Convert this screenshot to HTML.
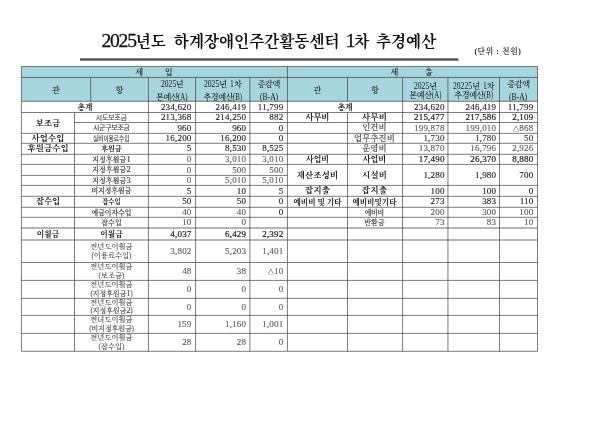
<!DOCTYPE html>
<html lang="ko"><head><meta charset="utf-8"><title>2025년도 하계장애인주간활동센터 1차 추경예산</title>
<style>
html,body{margin:0;padding:0;background:#fff;}
body{width:600px;height:424px;position:relative;overflow:hidden;font-family:"Liberation Serif","Noto Serif CJK SC",serif;color:#111;}
svg{position:absolute;left:0;top:0;}
.c{position:absolute;display:flex;align-items:center;text-align:center;white-space:nowrap;font-size:8.6px;line-height:1;box-sizing:border-box;}
.title{position:absolute;left:101.5px;top:30.0px;width:400px;text-align:left;font-family:"Liberation Serif","Noto Serif CJK SC",serif;font-weight:700;font-size:15.6px;line-height:23px;white-space:nowrap;word-spacing:3.5px;color:#111;-webkit-text-stroke:0 #111;}
.td{font-size:19.6px;font-weight:400;letter-spacing:-1.25px;line-height:1px;-webkit-text-stroke:0.3px #111;}
.t2{margin-left:0.6px;}
.t3{margin-left:-1.2px;}
.t4{margin-left:-0.8px;}
.unit{position:absolute;left:474.4px;top:46.6px;width:80px;line-height:10px;color:#222;white-space:nowrap;font-family:"Liberation Serif","Noto Serif CJK SC",serif;font-weight:600;}
.h{font-weight:500;color:#1a1a1a;font-size:8.2px;padding-top:3.4px;}
.hb{font-weight:600;padding-top:2.2px;}
.h2{line-height:9.3px;letter-spacing:-0.45px;padding-top:3.4px;word-spacing:1.8px;}
.wide{line-height:13.6px;padding-top:4.2px;}
.sxo{display:inline-block;white-space:nowrap;letter-spacing:0;text-align:left;line-height:1px;font-weight:400;}
.sxi{display:inline-block;transform-origin:0 50%;white-space:nowrap;}
.b{font-weight:700;color:#111;font-size:8.4px;padding-top:1.7px;}
.g{font-family:"Liberation Serif","Noto Serif CJK SC",serif;font-weight:500;color:#3a3a3a;font-size:7.3px;padding-top:1.4px;-webkit-text-stroke:0.15px currentColor;}
.cd{letter-spacing:-0.32px;}
.ld{font-size:1.22em;line-height:1px;}
.gs{font-family:"Liberation Sans","Noto Sans CJK KR",sans-serif;font-weight:400;color:#444;}
.g .sxo{line-height:1;}
.two{line-height:8.8px;font-size:7.3px;padding-top:1.2px;-webkit-text-stroke:0.05px currentColor;color:#484848;}
.n{font-family:"Liberation Serif","Noto Serif CJK SC",serif;font-size:9px;letter-spacing:0.2px;-webkit-text-stroke:0.12px currentColor;padding-top:0.4px;}
.tri{font-size:6.2px;}
.k{color:#1a1a1a;}
.k2{color:#333;}
.gr{color:#5a5a5a;}
.nb{font-weight:400;-webkit-text-stroke:0.2px currentColor;}
.nb2{-webkit-text-stroke:0.2px currentColor;}
.gb{font-weight:500;color:#484848;}
</style></head>
<body>
<svg width="600" height="424" viewBox="0 0 600 424">
<rect x="21.4" y="66.45" width="516.1" height="34.849999999999994" fill="#a4d6dc"/>
<rect x="80" y="58.3" width="378.3" height="2.4" fill="#505050"/>
<line x1="21.4" y1="66.45" x2="537.5" y2="66.45" stroke="#444444" stroke-width="0.7"/>
<line x1="21.4" y1="77.45" x2="537.5" y2="77.45" stroke="#444444" stroke-width="0.7"/>
<line x1="21.4" y1="101.3" x2="537.5" y2="101.3" stroke="#444444" stroke-width="0.7"/>
<line x1="21.4" y1="112.5" x2="287.45" y2="112.5" stroke="#444444" stroke-width="0.7"/>
<line x1="287.45" y1="112.5" x2="537.5" y2="112.5" stroke="#444444" stroke-width="0.7"/>
<line x1="74.5" y1="122.5" x2="287.45" y2="122.5" stroke="#444444" stroke-width="0.7"/>
<line x1="287.45" y1="122.5" x2="537.5" y2="122.5" stroke="#444444" stroke-width="0.7"/>
<line x1="21.4" y1="133.35" x2="287.45" y2="133.35" stroke="#444444" stroke-width="0.7"/>
<line x1="287.45" y1="133.35" x2="537.5" y2="133.35" stroke="#444444" stroke-width="0.7"/>
<line x1="21.4" y1="143.3" x2="287.45" y2="143.3" stroke="#444444" stroke-width="0.7"/>
<line x1="287.45" y1="143.3" x2="537.5" y2="143.3" stroke="#444444" stroke-width="0.7"/>
<line x1="21.4" y1="154.3" x2="287.45" y2="154.3" stroke="#444444" stroke-width="0.7"/>
<line x1="287.45" y1="154.3" x2="537.5" y2="154.3" stroke="#444444" stroke-width="0.7"/>
<line x1="21.4" y1="164.4" x2="287.45" y2="164.4" stroke="#444444" stroke-width="0.7"/>
<line x1="287.45" y1="164.4" x2="537.5" y2="164.4" stroke="#444444" stroke-width="0.7"/>
<line x1="21.4" y1="175.4" x2="287.45" y2="175.4" stroke="#444444" stroke-width="0.7"/>
<line x1="21.4" y1="185.4" x2="287.45" y2="185.4" stroke="#444444" stroke-width="0.7"/>
<line x1="287.45" y1="185.4" x2="537.5" y2="185.4" stroke="#444444" stroke-width="0.7"/>
<line x1="21.4" y1="196.3" x2="287.45" y2="196.3" stroke="#444444" stroke-width="0.7"/>
<line x1="287.45" y1="196.3" x2="537.5" y2="196.3" stroke="#444444" stroke-width="0.7"/>
<line x1="21.4" y1="207.3" x2="287.45" y2="207.3" stroke="#444444" stroke-width="0.7"/>
<line x1="287.45" y1="207.3" x2="537.5" y2="207.3" stroke="#444444" stroke-width="0.7"/>
<line x1="21.4" y1="217.3" x2="287.45" y2="217.3" stroke="#444444" stroke-width="0.7"/>
<line x1="287.45" y1="217.3" x2="537.5" y2="217.3" stroke="#444444" stroke-width="0.7"/>
<line x1="21.4" y1="228.0" x2="287.45" y2="228.0" stroke="#b6b6b6" stroke-width="2.0"/>
<line x1="287.45" y1="228.0" x2="537.5" y2="228.0" stroke="#b6b6b6" stroke-width="2.0"/>
<line x1="21.4" y1="239.95" x2="287.45" y2="239.95" stroke="#b6b6b6" stroke-width="2.0"/>
<line x1="287.45" y1="239.95" x2="537.5" y2="239.95" stroke="#b6b6b6" stroke-width="2.0"/>
<line x1="21.4" y1="262.5" x2="287.45" y2="262.5" stroke="#444444" stroke-width="0.7"/>
<line x1="287.45" y1="262.5" x2="537.5" y2="262.5" stroke="#444444" stroke-width="0.7"/>
<line x1="21.4" y1="280.4" x2="287.45" y2="280.4" stroke="#444444" stroke-width="0.7"/>
<line x1="287.45" y1="280.4" x2="537.5" y2="280.4" stroke="#444444" stroke-width="0.7"/>
<line x1="21.4" y1="298.35" x2="287.45" y2="298.35" stroke="#444444" stroke-width="0.7"/>
<line x1="287.45" y1="298.35" x2="537.5" y2="298.35" stroke="#444444" stroke-width="0.7"/>
<line x1="21.4" y1="315.4" x2="287.45" y2="315.4" stroke="#444444" stroke-width="0.7"/>
<line x1="287.45" y1="315.4" x2="537.5" y2="315.4" stroke="#444444" stroke-width="0.7"/>
<line x1="21.4" y1="333.4" x2="287.45" y2="333.4" stroke="#444444" stroke-width="0.7"/>
<line x1="287.45" y1="333.4" x2="537.5" y2="333.4" stroke="#444444" stroke-width="0.7"/>
<line x1="21.4" y1="351.3" x2="287.45" y2="351.3" stroke="#444444" stroke-width="0.7"/>
<line x1="287.45" y1="351.3" x2="537.5" y2="351.3" stroke="#444444" stroke-width="0.7"/>
<line x1="21.4" y1="66.45" x2="21.4" y2="351.3" stroke="#444444" stroke-width="0.7"/>
<line x1="90.7" y1="77.45" x2="90.7" y2="101.3" stroke="#444444" stroke-width="0.7"/>
<line x1="74.5" y1="112.5" x2="74.5" y2="351.3" stroke="#444444" stroke-width="0.7"/>
<line x1="148.4" y1="77.45" x2="148.4" y2="351.3" stroke="#444444" stroke-width="0.7"/>
<line x1="195.6" y1="77.45" x2="195.6" y2="351.3" stroke="#444444" stroke-width="0.7"/>
<line x1="249.9" y1="77.45" x2="249.9" y2="351.3" stroke="#444444" stroke-width="0.7"/>
<line x1="287.45" y1="66.45" x2="287.45" y2="351.3" stroke="#444444" stroke-width="0.7"/>
<line x1="347.5" y1="77.45" x2="347.5" y2="101.3" stroke="#444444" stroke-width="0.7"/>
<line x1="347.5" y1="112.5" x2="347.5" y2="351.3" stroke="#444444" stroke-width="0.7"/>
<line x1="402.6" y1="77.45" x2="402.6" y2="351.3" stroke="#444444" stroke-width="0.7"/>
<line x1="447.95" y1="77.45" x2="447.95" y2="351.3" stroke="#444444" stroke-width="0.7"/>
<line x1="499.5" y1="77.45" x2="499.5" y2="351.3" stroke="#444444" stroke-width="0.7"/>
<line x1="537.5" y1="66.45" x2="537.5" y2="351.3" stroke="#444444" stroke-width="0.7"/>
</svg>
<div class="title"><span class="td">2025</span>년도 <span class="t2">하계장애인주간활동센터</span> <span class="td t3">1</span>차 <span class="t4">추경예산</span></div>
<div class="unit" style="font-size:7.8px;letter-spacing:0.58px">(단위 : 천원)</div>
<div class="c h hb" style="left:21.00px;top:66.45px;width:266.05px;height:11.00px;justify-content:center;"><div>세<span style="display:inline-block;width:21.6px"></span>입</div></div>
<div class="c h hb" style="left:286.55px;top:66.45px;width:250.05px;height:11.00px;justify-content:center;"><div>세<span style="display:inline-block;width:26.3px"></span>출</div></div>
<div class="c h" style="left:21.40px;top:77.45px;width:69.30px;height:23.85px;justify-content:center;"><div>관</div></div>
<div class="c h" style="left:90.70px;top:77.45px;width:57.70px;height:23.85px;justify-content:center;"><div>항</div></div>
<div class="c h h2 wide" style="left:148.40px;top:77.45px;width:47.20px;height:23.85px;justify-content:center;"><div><span class="sxo" style="width:15.20px;font-size:9.5px;"><span class="sxi" style="transform:scaleX(0.8)">2025</span></span>년<br>본예산<span class="sxo" style="width:9.49px;font-size:9.5px;"><span class="sxi" style="transform:scaleX(0.72)">(A)</span></span></div></div>
<div class="c h h2 wide" style="left:195.60px;top:77.45px;width:54.30px;height:23.85px;justify-content:center;"><div><span class="sxo" style="width:15.20px;font-size:9.5px;"><span class="sxi" style="transform:scaleX(0.8)">2025</span></span>년 <span class="sxo" style="width:3.80px;font-size:9.5px;"><span class="sxi" style="transform:scaleX(0.8)">1</span></span>차<br>추경예산<span class="sxo" style="width:9.12px;font-size:9.5px;"><span class="sxi" style="transform:scaleX(0.72)">(B)</span></span></div></div>
<div class="c h h2 wide" style="left:249.90px;top:77.45px;width:37.55px;height:23.85px;justify-content:center;"><div>증감액<br><span class="sxo" style="width:18.15px;font-size:9.5px;"><span class="sxi" style="transform:scaleX(0.8)">(B-A)</span></span></div></div>
<div class="c h" style="left:287.45px;top:77.45px;width:60.05px;height:23.85px;justify-content:center;"><div>관</div></div>
<div class="c h" style="left:347.50px;top:77.45px;width:55.10px;height:23.85px;justify-content:center;"><div>항</div></div>
<div class="c h h2" style="left:402.60px;top:77.45px;width:45.35px;height:23.85px;justify-content:center;"><div><span class="sxo" style="width:15.20px;font-size:9.5px;"><span class="sxi" style="transform:scaleX(0.8)">2025</span></span>년<br>본예산<span class="sxo" style="width:9.49px;font-size:9.5px;"><span class="sxi" style="transform:scaleX(0.72)">(A)</span></span></div></div>
<div class="c h h2" style="left:447.95px;top:77.45px;width:51.55px;height:23.85px;justify-content:center;"><div><span class="sxo" style="width:19.00px;font-size:9.5px;"><span class="sxi" style="transform:scaleX(0.8)">20225</span></span>년 <span class="sxo" style="width:3.80px;font-size:9.5px;"><span class="sxi" style="transform:scaleX(0.8)">1</span></span>차<br>추경예산<span class="sxo" style="width:9.12px;font-size:9.5px;"><span class="sxi" style="transform:scaleX(0.72)">(B)</span></span></div></div>
<div class="c h h2 wide" style="left:499.50px;top:77.45px;width:38.00px;height:23.85px;justify-content:center;"><div>증감액<br><span class="sxo" style="width:18.15px;font-size:9.5px;"><span class="sxi" style="transform:scaleX(0.8)">(B-A)</span></span></div></div>
<div class="c b" style="left:21.40px;top:101.30px;width:127.00px;height:11.20px;justify-content:center;font-size:7.76px;"><div>총계</div></div>
<div class="c n k" style="left:148.40px;top:101.30px;width:43.15px;height:11.20px;justify-content:flex-end;"><div>234,620</div></div>
<div class="c n k" style="left:195.60px;top:101.30px;width:50.65px;height:11.20px;justify-content:flex-end;"><div>246,419</div></div>
<div class="c n k" style="left:249.90px;top:101.30px;width:33.55px;height:11.20px;justify-content:flex-end;"><div>11,799</div></div>
<div class="c g gs" style="left:74.47px;top:112.50px;width:73.90px;height:10.00px;justify-content:center;font-size:6.90px;letter-spacing:-0.05px;"><div>시도보조금</div></div>
<div class="c n k" style="left:148.40px;top:112.50px;width:43.15px;height:10.00px;justify-content:flex-end;"><div>213,368</div></div>
<div class="c n k" style="left:195.60px;top:112.50px;width:50.65px;height:10.00px;justify-content:flex-end;"><div>214,250</div></div>
<div class="c n k" style="left:249.90px;top:112.50px;width:33.55px;height:10.00px;justify-content:flex-end;"><div>882</div></div>
<div class="c g gs" style="left:74.39px;top:122.50px;width:73.90px;height:10.85px;justify-content:center;font-size:6.90px;letter-spacing:-0.21px;"><div>시군구보조금</div></div>
<div class="c n k" style="left:148.40px;top:122.50px;width:43.15px;height:10.85px;justify-content:flex-end;"><div>960</div></div>
<div class="c n k" style="left:195.60px;top:122.50px;width:50.65px;height:10.85px;justify-content:flex-end;"><div>960</div></div>
<div class="c n k" style="left:249.90px;top:122.50px;width:33.55px;height:10.85px;justify-content:flex-end;"><div>0</div></div>
<div class="c g gs" style="left:74.50px;top:133.35px;width:73.90px;height:9.95px;justify-content:center;"><div><span class="sxo" style="width:36.39px;font-size:6.9px;line-height:1;"><span class="sxi" style="transform:scaleX(0.819)">실비이용료수입</span></span></div></div>
<div class="c n k" style="left:148.40px;top:133.35px;width:43.15px;height:9.95px;justify-content:flex-end;"><div>16,200</div></div>
<div class="c n k" style="left:195.60px;top:133.35px;width:50.65px;height:9.95px;justify-content:flex-end;"><div>16,200</div></div>
<div class="c n k" style="left:249.90px;top:133.35px;width:33.55px;height:9.95px;justify-content:flex-end;"><div>0</div></div>
<div class="c bs b" style="left:74.40px;top:143.30px;width:73.90px;height:11.00px;justify-content:center;font-size:7.20px;letter-spacing:-0.21px;"><div>후원금</div></div>
<div class="c n k" style="left:148.40px;top:143.30px;width:43.15px;height:11.00px;justify-content:flex-end;"><div>5</div></div>
<div class="c n k" style="left:195.60px;top:143.30px;width:50.65px;height:11.00px;justify-content:flex-end;"><div>8,530</div></div>
<div class="c n k" style="left:249.90px;top:143.30px;width:33.55px;height:11.00px;justify-content:flex-end;"><div>8,525</div></div>
<div class="c g" style="left:74.59px;top:154.30px;width:73.90px;height:10.10px;justify-content:center;font-size:6.90px;letter-spacing:0.18px;"><div>지정후원금<span class="ld">1</span></div></div>
<div class="c n gr" style="left:148.40px;top:154.30px;width:43.15px;height:10.10px;justify-content:flex-end;"><div>0</div></div>
<div class="c n gr" style="left:195.60px;top:154.30px;width:50.65px;height:10.10px;justify-content:flex-end;"><div>3,010</div></div>
<div class="c n gr" style="left:249.90px;top:154.30px;width:33.55px;height:10.10px;justify-content:flex-end;"><div>3,010</div></div>
<div class="c g" style="left:74.59px;top:164.40px;width:73.90px;height:11.00px;justify-content:center;font-size:6.90px;letter-spacing:0.18px;"><div>지정후원금<span class="ld">2</span></div></div>
<div class="c n gr" style="left:148.40px;top:164.40px;width:43.15px;height:11.00px;justify-content:flex-end;"><div>0</div></div>
<div class="c n gr" style="left:195.60px;top:164.40px;width:50.65px;height:11.00px;justify-content:flex-end;"><div>500</div></div>
<div class="c n gr" style="left:249.90px;top:164.40px;width:33.55px;height:11.00px;justify-content:flex-end;"><div>500</div></div>
<div class="c g" style="left:74.59px;top:175.40px;width:73.90px;height:10.00px;justify-content:center;font-size:6.90px;letter-spacing:0.18px;"><div>지정후원금<span class="ld">3</span></div></div>
<div class="c n gr" style="left:148.40px;top:175.40px;width:43.15px;height:10.00px;justify-content:flex-end;"><div>0</div></div>
<div class="c n gr" style="left:195.60px;top:175.40px;width:50.65px;height:10.00px;justify-content:flex-end;"><div>5,010</div></div>
<div class="c n gr" style="left:249.90px;top:175.40px;width:33.55px;height:10.00px;justify-content:flex-end;"><div>5,010</div></div>
<div class="c g" style="left:74.50px;top:185.40px;width:73.90px;height:10.90px;justify-content:center;font-size:6.90px;"><div>비지정후원금</div></div>
<div class="c n k" style="left:148.40px;top:185.40px;width:43.15px;height:10.90px;justify-content:flex-end;"><div>5</div></div>
<div class="c n k" style="left:195.60px;top:185.40px;width:50.65px;height:10.90px;justify-content:flex-end;"><div>10</div></div>
<div class="c n k" style="left:249.90px;top:185.40px;width:33.55px;height:10.90px;justify-content:flex-end;"><div>5</div></div>
<div class="c bs b" style="left:74.45px;top:196.30px;width:73.90px;height:11.00px;justify-content:center;font-size:6.34px;letter-spacing:-0.10px;"><div>잡수입</div></div>
<div class="c n k" style="left:148.40px;top:196.30px;width:43.15px;height:11.00px;justify-content:flex-end;"><div>50</div></div>
<div class="c n k" style="left:195.60px;top:196.30px;width:50.65px;height:11.00px;justify-content:flex-end;"><div>50</div></div>
<div class="c n k" style="left:249.90px;top:196.30px;width:33.55px;height:11.00px;justify-content:flex-end;"><div>0</div></div>
<div class="c g" style="left:74.47px;top:207.30px;width:73.90px;height:10.00px;justify-content:center;font-size:6.90px;letter-spacing:-0.05px;"><div>예금이자수입</div></div>
<div class="c n gr" style="left:148.40px;top:207.30px;width:43.15px;height:10.00px;justify-content:flex-end;"><div>40</div></div>
<div class="c n gr" style="left:195.60px;top:207.30px;width:50.65px;height:10.00px;justify-content:flex-end;"><div>40</div></div>
<div class="c n k" style="left:249.90px;top:207.30px;width:33.55px;height:10.00px;justify-content:flex-end;"><div>0</div></div>
<div class="c g" style="left:74.66px;top:217.30px;width:73.90px;height:10.70px;justify-content:center;font-size:6.90px;letter-spacing:0.31px;"><div>잡수입</div></div>
<div class="c n gr" style="left:148.40px;top:217.30px;width:43.15px;height:10.70px;justify-content:flex-end;"><div>10</div></div>
<div class="c n gr" style="left:195.60px;top:217.30px;width:50.65px;height:10.70px;justify-content:flex-end;"><div>0</div></div>
<div class="c b" style="left:74.50px;top:228.00px;width:73.90px;height:11.95px;justify-content:center;font-size:7.73px;"><div>이월금</div></div>
<div class="c n k nb" style="left:148.40px;top:228.00px;width:43.15px;height:11.95px;justify-content:flex-end;"><div>4,037</div></div>
<div class="c n k nb" style="left:195.60px;top:228.00px;width:50.65px;height:11.95px;justify-content:flex-end;"><div>6,429</div></div>
<div class="c n k nb" style="left:249.90px;top:228.00px;width:33.55px;height:11.95px;justify-content:flex-end;"><div>2,392</div></div>
<div class="c g two" style="left:74.50px;top:239.95px;width:73.90px;height:22.55px;justify-content:center;"><div>전년도이월금<br>(이용료수입)</div></div>
<div class="c n gr" style="left:148.40px;top:239.95px;width:43.15px;height:22.55px;justify-content:flex-end;"><div>3,802</div></div>
<div class="c n gr" style="left:195.60px;top:239.95px;width:50.65px;height:22.55px;justify-content:flex-end;"><div>5,203</div></div>
<div class="c n gr" style="left:249.90px;top:239.95px;width:33.55px;height:22.55px;justify-content:flex-end;"><div>1,401</div></div>
<div class="c g two" style="left:74.50px;top:262.50px;width:73.90px;height:17.90px;justify-content:center;"><div>전년도이월금<br>(보조금)</div></div>
<div class="c n gr" style="left:148.40px;top:262.50px;width:43.15px;height:17.90px;justify-content:flex-end;"><div>48</div></div>
<div class="c n gr" style="left:195.60px;top:262.50px;width:50.65px;height:17.90px;justify-content:flex-end;"><div>38</div></div>
<div class="c n gr" style="left:249.90px;top:262.50px;width:33.55px;height:17.90px;justify-content:flex-end;"><div><span class="tri">△</span>10</div></div>
<div class="c g two" style="left:74.50px;top:280.40px;width:73.90px;height:17.95px;justify-content:center;"><div>전년도이월금<br><span class="cd">(지정후원금<span class="ld">1</span>)</span></div></div>
<div class="c n gr" style="left:148.40px;top:280.40px;width:43.15px;height:17.95px;justify-content:flex-end;"><div>0</div></div>
<div class="c n gr" style="left:195.60px;top:280.40px;width:50.65px;height:17.95px;justify-content:flex-end;"><div>0</div></div>
<div class="c n gr" style="left:249.90px;top:280.40px;width:33.55px;height:17.95px;justify-content:flex-end;"><div>0</div></div>
<div class="c g two" style="left:74.50px;top:298.35px;width:73.90px;height:17.05px;justify-content:center;"><div>전년도이월금<br><span class="cd">(지정후원금<span class="ld">2</span>)</span></div></div>
<div class="c n gr" style="left:148.40px;top:298.35px;width:43.15px;height:17.05px;justify-content:flex-end;"><div>0</div></div>
<div class="c n gr" style="left:195.60px;top:298.35px;width:50.65px;height:17.05px;justify-content:flex-end;"><div>0</div></div>
<div class="c n gr" style="left:249.90px;top:298.35px;width:33.55px;height:17.05px;justify-content:flex-end;"><div>0</div></div>
<div class="c g two" style="left:74.50px;top:315.40px;width:73.90px;height:18.00px;justify-content:center;"><div>전녀도이월금<br><span class="cd">(비지정후원금)</span></div></div>
<div class="c n gr" style="left:148.40px;top:315.40px;width:43.15px;height:18.00px;justify-content:flex-end;"><div>159</div></div>
<div class="c n gr" style="left:195.60px;top:315.40px;width:50.65px;height:18.00px;justify-content:flex-end;"><div>1,160</div></div>
<div class="c n gr" style="left:249.90px;top:315.40px;width:33.55px;height:18.00px;justify-content:flex-end;"><div>1,001</div></div>
<div class="c g two" style="left:74.50px;top:333.40px;width:73.90px;height:17.90px;justify-content:center;"><div>전년도이월금<br>(잡수입)</div></div>
<div class="c n gr" style="left:148.40px;top:333.40px;width:43.15px;height:17.90px;justify-content:flex-end;"><div>28</div></div>
<div class="c n gr" style="left:195.60px;top:333.40px;width:50.65px;height:17.90px;justify-content:flex-end;"><div>28</div></div>
<div class="c n gr" style="left:249.90px;top:333.40px;width:33.55px;height:17.90px;justify-content:flex-end;"><div>0</div></div>
<div class="c b" style="left:21.38px;top:112.50px;width:53.10px;height:20.85px;justify-content:center;font-size:8.40px;letter-spacing:-0.04px;"><div>보조금</div></div>
<div class="c b" style="left:21.50px;top:133.35px;width:53.10px;height:9.95px;justify-content:center;font-size:8.40px;letter-spacing:0.20px;"><div>사업수입</div></div>
<div class="c b" style="left:21.49px;top:143.30px;width:53.10px;height:11.00px;justify-content:center;font-size:8.40px;letter-spacing:0.17px;"><div>후원금수입</div></div>
<div class="c b" style="left:21.35px;top:196.30px;width:53.10px;height:11.00px;justify-content:center;font-size:8.40px;letter-spacing:-0.09px;"><div>잡수입</div></div>
<div class="c b" style="left:21.40px;top:228.00px;width:53.10px;height:11.95px;justify-content:center;font-size:7.73px;"><div>이월금</div></div>
<div class="c b" style="left:287.45px;top:101.30px;width:115.15px;height:11.20px;justify-content:center;font-size:7.87px;"><div>총계</div></div>
<div class="c n k" style="left:402.60px;top:101.30px;width:42.05px;height:11.20px;justify-content:flex-end;"><div>234,620</div></div>
<div class="c n k" style="left:447.95px;top:101.30px;width:48.30px;height:11.20px;justify-content:flex-end;"><div>246,419</div></div>
<div class="c n k" style="left:499.50px;top:101.30px;width:33.95px;height:11.20px;justify-content:flex-end;"><div>11,799</div></div>
<div class="c b" style="left:287.38px;top:112.50px;width:60.05px;height:10.00px;justify-content:center;font-size:8.40px;letter-spacing:-0.14px;"><div>사무비</div></div>
<div class="c b" style="left:347.03px;top:112.50px;width:55.10px;height:10.00px;justify-content:center;font-size:8.40px;letter-spacing:0.26px;"><div>사무비</div></div>
<div class="c n k nb2" style="left:402.60px;top:112.50px;width:42.05px;height:10.00px;justify-content:flex-end;"><div>215,477</div></div>
<div class="c n k nb2" style="left:447.95px;top:112.50px;width:48.30px;height:10.00px;justify-content:flex-end;"><div>217,586</div></div>
<div class="c n k nb2" style="left:499.50px;top:112.50px;width:33.95px;height:10.00px;justify-content:flex-end;"><div>2,109</div></div>
<div class="c gb g" style="left:346.95px;top:122.50px;width:55.10px;height:10.85px;justify-content:center;font-size:8.40px;letter-spacing:0.11px;"><div>인건비</div></div>
<div class="c n gr" style="left:402.60px;top:122.50px;width:42.05px;height:10.85px;justify-content:flex-end;"><div>199,878</div></div>
<div class="c n gr" style="left:447.95px;top:122.50px;width:48.30px;height:10.85px;justify-content:flex-end;"><div>199,010</div></div>
<div class="c n gr" style="left:499.50px;top:122.50px;width:33.95px;height:10.85px;justify-content:flex-end;"><div><span class="tri">△</span>868</div></div>
<div class="c gb g" style="left:346.96px;top:133.35px;width:55.10px;height:9.95px;justify-content:center;font-size:8.40px;letter-spacing:0.12px;"><div>업무추진비</div></div>
<div class="c n k2" style="left:402.60px;top:133.35px;width:42.05px;height:9.95px;justify-content:flex-end;"><div>1,730</div></div>
<div class="c n k2" style="left:447.95px;top:133.35px;width:48.30px;height:9.95px;justify-content:flex-end;"><div>1,780</div></div>
<div class="c n k2" style="left:499.50px;top:133.35px;width:33.95px;height:9.95px;justify-content:flex-end;"><div>50</div></div>
<div class="c gb g" style="left:346.95px;top:143.30px;width:55.10px;height:11.00px;justify-content:center;font-size:8.40px;letter-spacing:0.11px;"><div>운영비</div></div>
<div class="c n gr" style="left:402.60px;top:143.30px;width:42.05px;height:11.00px;justify-content:flex-end;"><div>13,870</div></div>
<div class="c n gr" style="left:447.95px;top:143.30px;width:48.30px;height:11.00px;justify-content:flex-end;"><div>16,796</div></div>
<div class="c n gr" style="left:499.50px;top:143.30px;width:33.95px;height:11.00px;justify-content:flex-end;"><div>2,926</div></div>
<div class="c b" style="left:287.45px;top:154.30px;width:60.05px;height:10.10px;justify-content:center;font-size:7.91px;"><div>사업비</div></div>
<div class="c b" style="left:346.90px;top:154.30px;width:55.10px;height:10.10px;justify-content:center;font-size:8.12px;"><div>사업비</div></div>
<div class="c n k nb2" style="left:402.60px;top:154.30px;width:42.05px;height:10.10px;justify-content:flex-end;"><div>17,490</div></div>
<div class="c n k nb2" style="left:447.95px;top:154.30px;width:48.30px;height:10.10px;justify-content:flex-end;"><div>26,370</div></div>
<div class="c n k nb2" style="left:499.50px;top:154.30px;width:33.95px;height:10.10px;justify-content:flex-end;"><div>8,880</div></div>
<div class="c b" style="left:287.57px;top:164.40px;width:60.05px;height:21.00px;justify-content:center;font-size:8.40px;letter-spacing:0.25px;"><div>재산조성비</div></div>
<div class="c b" style="left:347.05px;top:164.40px;width:55.10px;height:21.00px;justify-content:center;font-size:8.40px;letter-spacing:0.31px;"><div>시설비</div></div>
<div class="c n k" style="left:402.60px;top:164.40px;width:42.05px;height:21.00px;justify-content:flex-end;"><div>1,280</div></div>
<div class="c n k" style="left:447.95px;top:164.40px;width:48.30px;height:21.00px;justify-content:flex-end;"><div>1,980</div></div>
<div class="c n k" style="left:499.50px;top:164.40px;width:33.95px;height:21.00px;justify-content:flex-end;"><div>700</div></div>
<div class="c b" style="left:287.60px;top:185.40px;width:60.05px;height:10.90px;justify-content:center;font-size:8.40px;letter-spacing:0.31px;"><div>잡지출</div></div>
<div class="c b" style="left:347.13px;top:185.40px;width:55.10px;height:10.90px;justify-content:center;font-size:8.40px;letter-spacing:0.46px;"><div>잡지출</div></div>
<div class="c n k" style="left:402.60px;top:185.40px;width:42.05px;height:10.90px;justify-content:flex-end;"><div>100</div></div>
<div class="c n k" style="left:447.95px;top:185.40px;width:48.30px;height:10.90px;justify-content:flex-end;"><div>100</div></div>
<div class="c n k" style="left:499.50px;top:185.40px;width:33.95px;height:10.90px;justify-content:flex-end;"><div>0</div></div>
<div class="c b" style="left:287.45px;top:196.30px;width:60.05px;height:11.00px;justify-content:center;font-size:7.65px;"><div>예비비 및 기타</div></div>
<div class="c b" style="left:346.90px;top:196.30px;width:55.10px;height:11.00px;justify-content:center;font-size:7.61px;"><div>예비비및기타</div></div>
<div class="c n k" style="left:402.60px;top:196.30px;width:42.05px;height:11.00px;justify-content:flex-end;"><div>273</div></div>
<div class="c n k" style="left:447.95px;top:196.30px;width:48.30px;height:11.00px;justify-content:flex-end;"><div>383</div></div>
<div class="c n k" style="left:499.50px;top:196.30px;width:33.95px;height:11.00px;justify-content:flex-end;"><div>110</div></div>
<div class="c g" style="left:346.81px;top:207.30px;width:55.10px;height:10.00px;justify-content:center;font-size:6.90px;letter-spacing:-0.19px;"><div>예비비</div></div>
<div class="c n gr" style="left:402.60px;top:207.30px;width:42.05px;height:10.00px;justify-content:flex-end;"><div>200</div></div>
<div class="c n gr" style="left:447.95px;top:207.30px;width:48.30px;height:10.00px;justify-content:flex-end;"><div>300</div></div>
<div class="c n gr" style="left:499.50px;top:207.30px;width:33.95px;height:10.00px;justify-content:flex-end;"><div>100</div></div>
<div class="c g" style="left:347.06px;top:217.30px;width:55.10px;height:10.70px;justify-content:center;font-size:6.90px;letter-spacing:0.31px;"><div>반환금</div></div>
<div class="c n gr" style="left:402.60px;top:217.30px;width:42.05px;height:10.70px;justify-content:flex-end;"><div>73</div></div>
<div class="c n gr" style="left:447.95px;top:217.30px;width:48.30px;height:10.70px;justify-content:flex-end;"><div>83</div></div>
<div class="c n gr" style="left:499.50px;top:217.30px;width:33.95px;height:10.70px;justify-content:flex-end;"><div>10</div></div>
</body></html>
